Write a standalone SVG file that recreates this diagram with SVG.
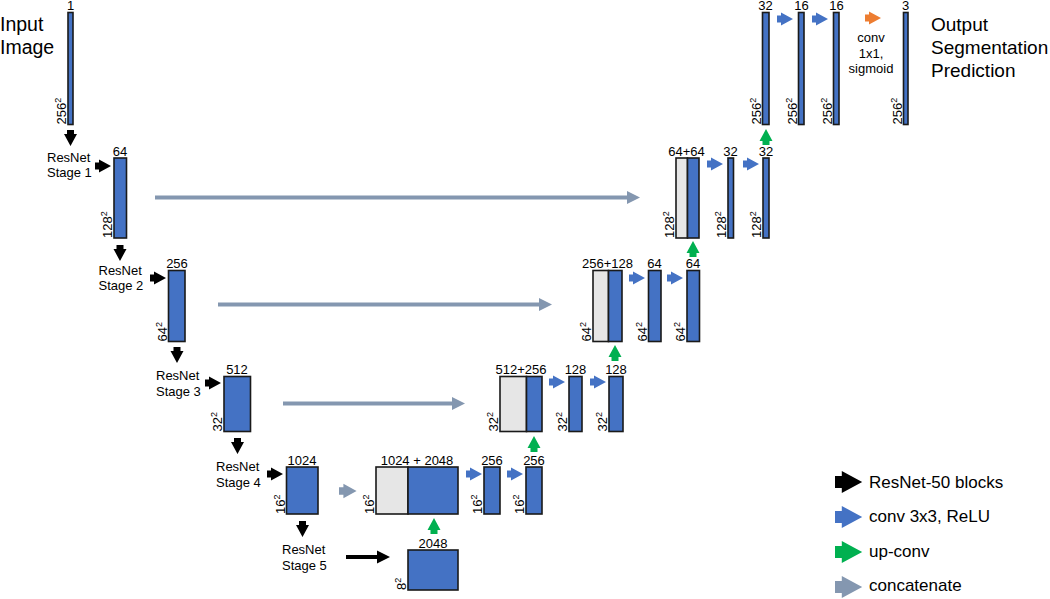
<svg xmlns="http://www.w3.org/2000/svg" width="1050" height="599" viewBox="0 0 1050 599">
<style>
text{font-family:"Liberation Sans",Arial,sans-serif;fill:#000}
.lb{font-size:13px;text-anchor:middle}
.sz{font-size:13px}
.sup{font-size:9px}
.st{font-size:13px}
.big{font-size:19.5px}
.out{font-size:19px}
.leg{font-size:17px}
.cv{font-size:13px;text-anchor:middle}
.bar{fill:#4472C4;stroke:#1a1a1a;stroke-width:1.6}
.cat{fill:#E6E6E6;stroke:#1a1a1a;stroke-width:1.6}
.k{fill:#000}.b{fill:#4472C4}.g{fill:#00B050}.o{fill:#ED7D31}.gr{fill:#8497B0}
.cl{stroke:#8497B0;stroke-width:4;fill:none}
.kl{stroke:#000;stroke-width:4;fill:none}
</style>
<defs><path id="ar" d="M0,-3.5 H4 V-6.5 L16,0 L4,6.5 V3.5 H0 Z"/></defs>

<text class="big" x="0" y="31">Input</text>
<text class="big" x="0" y="54">Image</text>
<text class="out" x="931" y="31">Output</text>
<text class="out" x="931" y="54">Segmentation</text>
<text class="out" x="931" y="77">Prediction</text>

<g id="input">
<rect class="bar" x="68" y="12.5" width="5" height="112"/>
<text class="lb" x="70.5" y="10">1</text>
<text class="sz" transform="translate(66,124.5) rotate(-90)">256<tspan class="sup" dy="-5">2</tspan></text>
</g>
<g id="stage1">
<text class="st" x="47" y="162">ResNet</text><text class="st" x="47" y="177">Stage 1</text>
<rect class="bar" x="114" y="158" width="12.5" height="80"/>
<text class="lb" x="120" y="156">64</text>
<text class="sz" transform="translate(112,238) rotate(-90)">128<tspan class="sup" dy="-5">2</tspan></text>
</g>
<g id="stage2">
<text class="st" x="98.5" y="275">ResNet</text><text class="st" x="98.5" y="290">Stage 2</text>
<rect class="bar" x="168.5" y="270.5" width="16.5" height="71"/>
<text class="lb" x="177" y="268">256</text>
<text class="sz" transform="translate(166.5,341.5) rotate(-90)">64<tspan class="sup" dy="-5">2</tspan></text>
</g>
<g id="stage3">
<text class="st" x="156" y="380">ResNet</text><text class="st" x="156" y="396">Stage 3</text>
<rect class="bar" x="224" y="376.5" width="26.5" height="55"/>
<text class="lb" x="237" y="374">512</text>
<text class="sz" transform="translate(222,431.5) rotate(-90)">32<tspan class="sup" dy="-5">2</tspan></text>
</g>
<g id="stage4">
<text class="st" x="216" y="471">ResNet</text><text class="st" x="216" y="487">Stage 4</text>
<rect class="bar" x="286.5" y="467" width="31.5" height="47"/>
<text class="lb" x="302" y="465">1024</text>
<text class="sz" transform="translate(284.5,514) rotate(-90)">16<tspan class="sup" dy="-5">2</tspan></text>
</g>
<g id="stage5">
<text class="st" x="282" y="554">ResNet</text><text class="st" x="282" y="570">Stage 5</text>
<rect class="bar" x="408" y="550" width="50" height="40"/>
<text class="lb" x="433" y="548">2048</text>
<text class="sz" transform="translate(406,590) rotate(-90)">8<tspan class="sup" dy="-5">2</tspan></text>
</g>

<g id="dec4-concat">
<rect class="cat" x="376" y="467" width="32" height="47"/>
<rect class="bar" x="408" y="467" width="50" height="47"/>
<text class="lb" x="417" y="465">1024 + 2048</text>
<text class="sz" transform="translate(374,514) rotate(-90)">16<tspan class="sup" dy="-5">2</tspan></text>
</g>
<g id="dec4-conv1">
<rect class="bar" x="484" y="467" width="16" height="47"/>
<text class="lb" x="492" y="465">256</text>
<text class="sz" transform="translate(482,514) rotate(-90)">16<tspan class="sup" dy="-5">2</tspan></text>
</g>
<g id="dec4-conv2">
<rect class="bar" x="526" y="467" width="16" height="47"/>
<text class="lb" x="534" y="465">256</text>
<text class="sz" transform="translate(524,514) rotate(-90)">16<tspan class="sup" dy="-5">2</tspan></text>
</g>

<g id="dec3-concat">
<rect class="cat" x="500" y="376.5" width="26.5" height="55"/>
<rect class="bar" x="526.5" y="376.5" width="15.5" height="55"/>
<text class="lb" x="521" y="374">512+256</text>
<text class="sz" transform="translate(498,431.5) rotate(-90)">32<tspan class="sup" dy="-5">2</tspan></text>
</g>
<g id="dec3-conv1">
<rect class="bar" x="569" y="376.5" width="13" height="55"/>
<text class="lb" x="575.5" y="374">128</text>
<text class="sz" transform="translate(567,431.5) rotate(-90)">32<tspan class="sup" dy="-5">2</tspan></text>
</g>
<g id="dec3-conv2">
<rect class="bar" x="609" y="376.5" width="14" height="55"/>
<text class="lb" x="616" y="374">128</text>
<text class="sz" transform="translate(607,431.5) rotate(-90)">32<tspan class="sup" dy="-5">2</tspan></text>
</g>

<g id="dec2-concat">
<rect class="cat" x="593" y="270.5" width="15.5" height="71"/>
<rect class="bar" x="608.5" y="270.5" width="13.5" height="71"/>
<text class="lb" x="607.5" y="268">256+128</text>
<text class="sz" transform="translate(591,341.5) rotate(-90)">64<tspan class="sup" dy="-5">2</tspan></text>
</g>
<g id="dec2-conv1">
<rect class="bar" x="648.5" y="270.5" width="12.5" height="71"/>
<text class="lb" x="654.5" y="268">64</text>
<text class="sz" transform="translate(646.5,341.5) rotate(-90)">64<tspan class="sup" dy="-5">2</tspan></text>
</g>
<g id="dec2-conv2">
<rect class="bar" x="687" y="270.5" width="12.5" height="71"/>
<text class="lb" x="693" y="268">64</text>
<text class="sz" transform="translate(685,341.5) rotate(-90)">64<tspan class="sup" dy="-5">2</tspan></text>
</g>

<g id="dec1-concat">
<rect class="cat" x="676" y="158" width="11.5" height="80"/>
<rect class="bar" x="687.5" y="158" width="11.5" height="80"/>
<text class="lb" x="686.5" y="156">64+64</text>
<text class="sz" transform="translate(674,238) rotate(-90)">128<tspan class="sup" dy="-5">2</tspan></text>
</g>
<g id="dec1-conv1">
<rect class="bar" x="728" y="158" width="5.5" height="80"/>
<text class="lb" x="730.5" y="156">32</text>
<text class="sz" transform="translate(726,238) rotate(-90)">128<tspan class="sup" dy="-5">2</tspan></text>
</g>
<g id="dec1-conv2">
<rect class="bar" x="763" y="158" width="6" height="80"/>
<text class="lb" x="766" y="156">32</text>
<text class="sz" transform="translate(761,238) rotate(-90)">128<tspan class="sup" dy="-5">2</tspan></text>
</g>

<g id="dec0-up">
<rect class="bar" x="762.5" y="12.5" width="6.5" height="112"/>
<text class="lb" x="765.5" y="10">32</text>
<text class="sz" transform="translate(760.5,124.5) rotate(-90)">256<tspan class="sup" dy="-5">2</tspan></text>
</g>
<g id="dec0-conv1">
<rect class="bar" x="798.5" y="12.5" width="5.5" height="112"/>
<text class="lb" x="801.5" y="10">16</text>
<text class="sz" transform="translate(796.5,124.5) rotate(-90)">256<tspan class="sup" dy="-5">2</tspan></text>
</g>
<g id="dec0-conv2">
<rect class="bar" x="833.5" y="12.5" width="5.5" height="112"/>
<text class="lb" x="836.5" y="10">16</text>
<text class="sz" transform="translate(831.5,124.5) rotate(-90)">256<tspan class="sup" dy="-5">2</tspan></text>
</g>
<g id="output">
<rect class="bar" x="903.5" y="12.5" width="4.5" height="112"/>
<text class="lb" x="905.5" y="10">3</text>
<text class="sz" transform="translate(901.5,124.5) rotate(-90)">256<tspan class="sup" dy="-5">2</tspan></text>
<text class="cv" x="871" y="42">conv</text>
<text class="cv" x="871" y="58">1x1,</text>
<text class="cv" x="871" y="73">sigmoid</text>
</g>

<g id="connectors">
<use href="#ar" class="k" transform="translate(70.5,130) rotate(90)"/>
<use href="#ar" class="k" transform="translate(95,166)"/>
<use href="#ar" class="k" transform="translate(120,245) rotate(90)"/>
<use href="#ar" class="k" transform="translate(150,278)"/>
<use href="#ar" class="k" transform="translate(177,347) rotate(90)"/>
<use href="#ar" class="k" transform="translate(205,383)"/>
<use href="#ar" class="k" transform="translate(237.5,438) rotate(90)"/>
<use href="#ar" class="k" transform="translate(267,474)"/>
<use href="#ar" class="k" transform="translate(302.5,521) rotate(90)"/>
<line class="kl" x1="346" y1="557" x2="379" y2="557"/>
<polygon class="k" points="377,550.5 390,557 377,563.5"/>

<line class="cl" x1="155" y1="197.5" x2="629" y2="197.5"/>
<polygon class="gr" points="627,191 640,197.5 627,204"/>
<line class="cl" x1="218" y1="304.5" x2="541" y2="304.5"/>
<polygon class="gr" points="539,298 552,304.5 539,311"/>
<line class="cl" x1="283" y1="403.5" x2="454" y2="403.5"/>
<polygon class="gr" points="452,397 465,403.5 452,410"/>
<use href="#ar" class="gr" transform="translate(339,491) scale(1.1)"/>

<use href="#ar" class="b" transform="translate(466,474)"/>
<use href="#ar" class="b" transform="translate(507,474)"/>
<use href="#ar" class="b" transform="translate(549,382)"/>
<use href="#ar" class="b" transform="translate(590,382)"/>
<use href="#ar" class="b" transform="translate(629,278)"/>
<use href="#ar" class="b" transform="translate(667,278)"/>
<use href="#ar" class="b" transform="translate(707,164)"/>
<use href="#ar" class="b" transform="translate(743,164)"/>
<use href="#ar" class="b" transform="translate(777,19)"/>
<use href="#ar" class="b" transform="translate(812,19)"/>
<use href="#ar" class="o" transform="translate(865,18)"/>

<use href="#ar" class="g" transform="translate(434,534) rotate(-90)"/>
<use href="#ar" class="g" transform="translate(534,452) rotate(-90)"/>
<use href="#ar" class="g" transform="translate(615,361) rotate(-90)"/>
<use href="#ar" class="g" transform="translate(693,257) rotate(-90)"/>
<use href="#ar" class="g" transform="translate(766,145) rotate(-90)"/>
</g>

<g id="legend">
<use href="#ar" class="k" transform="translate(835,482) scale(1.7,1.7)"/>
<text class="leg" x="869" y="488">ResNet-50 blocks</text>
<use href="#ar" class="b" transform="translate(835,517) scale(1.7,1.7)"/>
<text class="leg" x="869" y="522">conv 3x3, ReLU</text>
<use href="#ar" class="g" transform="translate(835,552) scale(1.7,1.7)"/>
<text class="leg" x="869" y="557">up-conv</text>
<use href="#ar" class="gr" transform="translate(835,587) scale(1.7,1.7)"/>
<text class="leg" x="869" y="591">concatenate</text>
</g>
</svg>
